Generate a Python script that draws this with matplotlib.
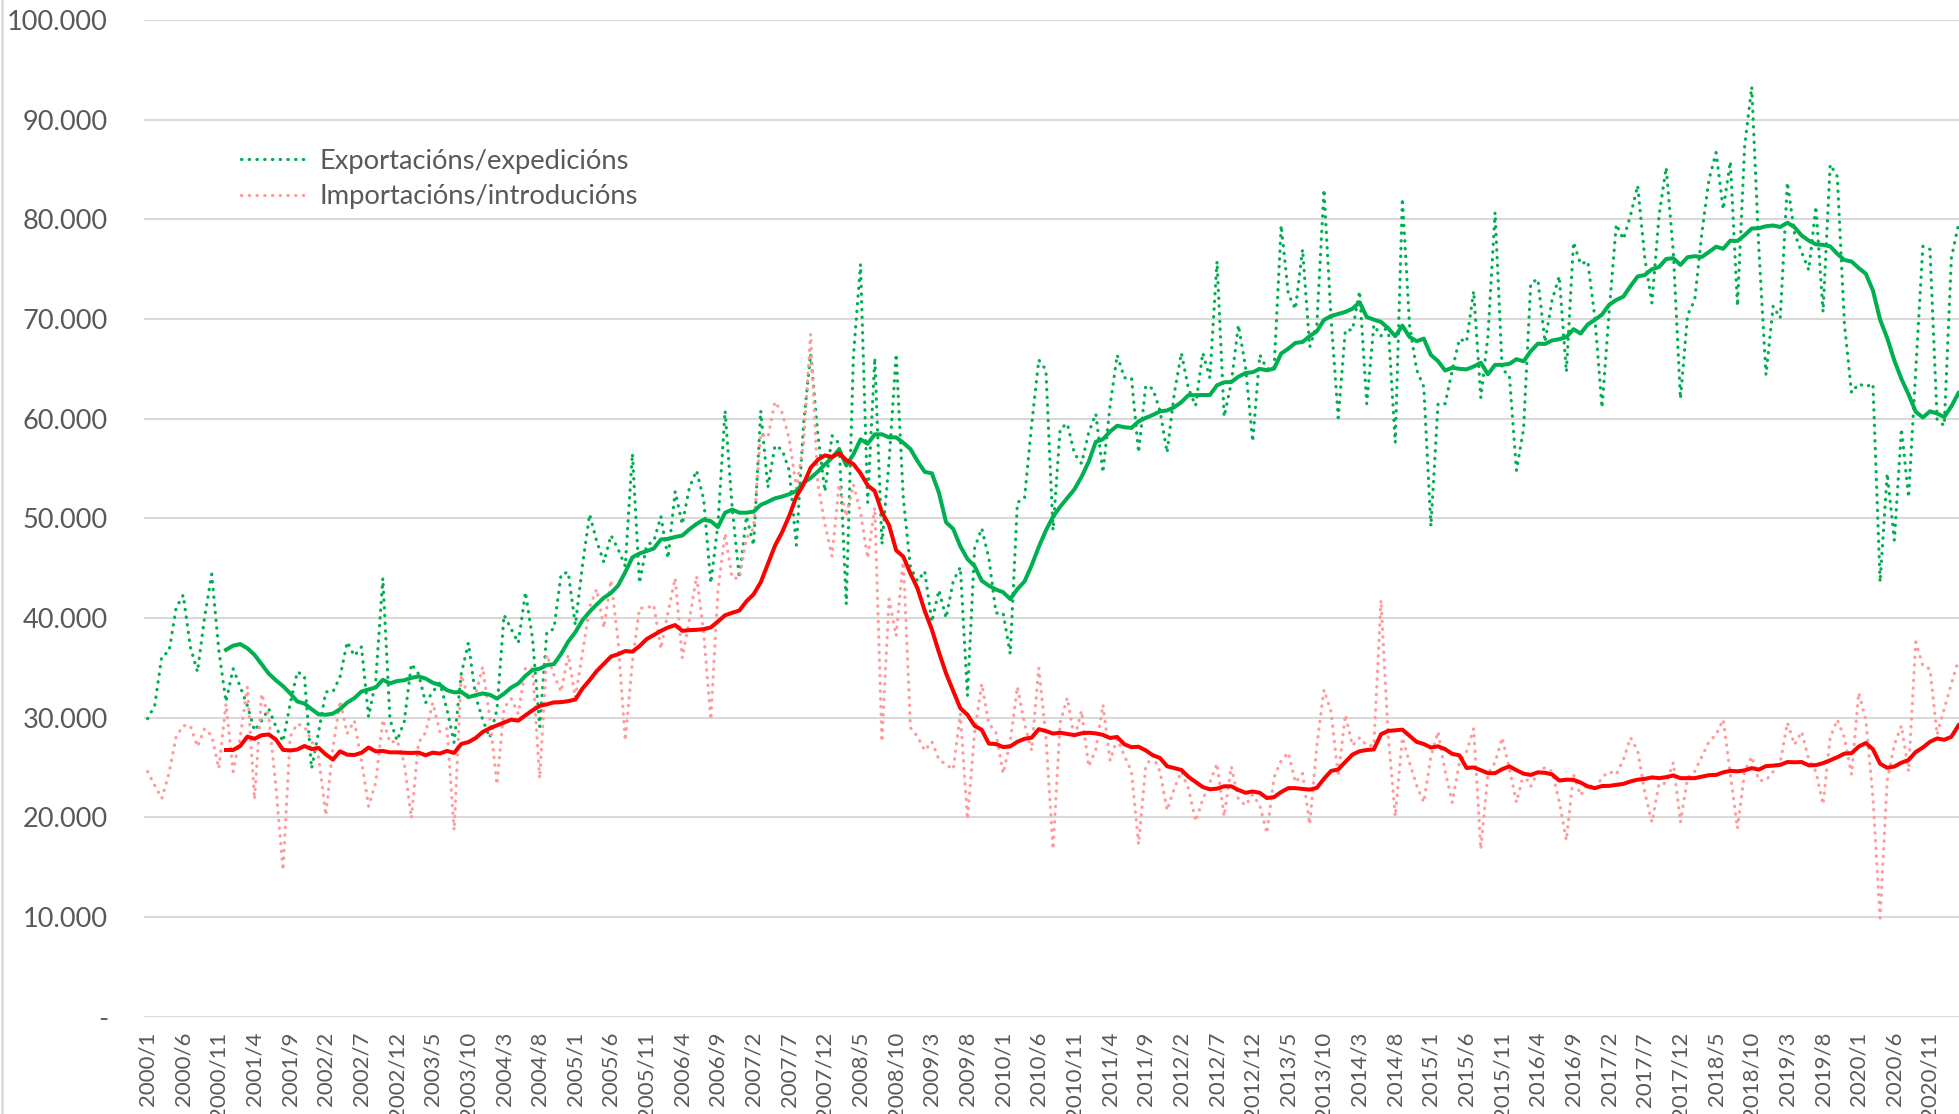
import matplotlib
matplotlib.use('Agg')
import matplotlib.pyplot as plt
import matplotlib.ticker as ticker
from matplotlib.lines import Line2D
import pandas as pd

# Monthly values from 2000/1
exportacions = [
    29.9, 31.2, 36.2, 36.6, 41.0, 42.3, 37.1, 34.6, 40.1, 44.4, 36.7, 31.6,
    34.9, 33.1, 31.2, 28.7, 29.7, 30.9, 29.1, 27.6, 31.4, 34.6, 34.2, 24.9,
    28.6, 32.6, 32.6, 34.1, 37.6, 36.2, 37.1, 30.1, 33.7, 44.0, 29.8, 27.7,
    29.6, 35.4, 34.4, 31.5, 32.6, 33.5, 30.8, 27.5, 34.4, 37.5, 32.2, 29.8,
    28.0, 30.8, 40.3, 38.9, 37.5, 42.6, 37.9, 29.1, 38.6, 38.9, 44.4, 44.6,
    39.3, 45.3, 50.4, 47.7, 45.6, 48.3, 46.9, 45.2, 56.5, 43.5, 47.3, 47.7,
    50.2, 46.0, 52.7, 49.4, 53.1, 54.8, 51.9, 43.5, 49.4, 60.8, 51.0, 44.0,
    50.2, 47.3, 60.8, 53.1, 57.3, 56.9, 54.8, 47.3, 59.4, 66.5, 58.5, 52.7,
    58.3, 57.5, 41.4, 66.3, 75.5, 51.6, 66.1, 47.4, 55.7, 66.5, 52.0, 45.1,
    43.7, 44.7, 39.6, 42.8, 40.0, 43.7, 45.1, 32.2, 47.0, 49.0, 46.0, 40.5,
    40.5, 36.4, 51.6, 52.0, 59.4, 65.9, 64.9, 48.8, 59.0, 59.5, 56.5, 55.5,
    58.6, 60.5, 54.6, 61.3, 66.4, 64.1, 64.1, 56.6, 63.3, 63.0, 60.8, 56.6,
    62.5, 66.6, 63.0, 61.3, 66.6, 64.1, 75.8, 60.2, 63.6, 69.4, 65.2, 57.7,
    66.4, 65.0, 65.0, 79.4, 72.5, 71.0, 77.0, 67.2, 69.4, 83.0, 70.0, 60.1,
    68.9, 68.9, 72.8, 61.5, 69.4, 68.3, 69.4, 57.6, 82.1, 69.4, 64.9, 63.2,
    49.2, 61.5, 61.5, 64.9, 68.0, 67.7, 72.8, 62.1, 68.3, 80.7, 64.9, 64.4,
    54.8, 59.0, 73.6, 74.0, 67.7, 71.9, 74.3, 64.7, 77.7, 75.5, 75.8, 70.1,
    61.1, 70.7, 79.5, 78.0, 80.4, 83.4, 76.1, 71.6, 80.4, 85.2, 76.7, 62.0,
    70.4, 71.9, 78.6, 84.0, 86.7, 81.0, 85.8, 71.3, 87.3, 93.3, 77.0, 64.4,
    71.3, 70.1, 83.7, 78.6, 76.7, 74.9, 81.3, 70.7, 85.5, 84.3, 69.5, 62.6,
    63.5, 63.2, 63.5, 43.6, 54.5, 47.8, 59.0, 52.1, 64.8, 77.3, 77.0, 59.9,
    59.3, 76.1, 79.5,
]

importacions = [
    24.6, 23.2, 21.9, 24.4, 28.1, 29.2, 29.2, 27.1, 28.9, 28.2, 24.9, 31.4,
    24.6, 28.1, 33.1, 21.8, 32.4, 30.1, 23.1, 14.7, 28.1, 29.4, 29.1, 27.7,
    26.0, 20.2, 27.0, 31.7, 28.4, 29.7, 25.7, 21.1, 23.5, 29.8, 27.5, 27.7,
    25.5, 19.9, 27.5, 28.5, 31.5, 28.6, 28.9, 18.7, 34.3, 32.0, 32.3, 35.1,
    30.0, 23.3, 31.0, 31.9, 30.4, 35.0, 34.9, 23.9, 36.3, 34.3, 32.6, 36.3,
    32.0, 36.5, 41.1, 42.9, 39.0, 43.8, 37.7, 27.7, 35.6, 41.0, 41.0, 41.3,
    36.9, 40.6, 44.0, 36.0, 39.8, 44.2, 38.5, 29.8, 42.7, 48.5, 44.0, 44.0,
    48.0, 49.0, 58.5, 58.1, 61.7, 60.6, 58.0, 53.0, 57.5, 68.5, 53.5, 49.4,
    46.2, 53.4, 50.2, 53.4, 50.6, 46.0, 51.1, 27.6, 41.9, 38.2, 46.0, 29.0,
    28.1, 26.7, 27.6, 25.8, 25.3, 24.8, 30.4, 19.8, 28.5, 33.4, 29.4, 28.5,
    24.4, 27.6, 33.1, 29.4, 26.7, 35.0, 28.1, 16.8, 29.5, 32.0, 27.9, 30.7,
    25.1, 26.8, 31.3, 25.7, 27.9, 26.2, 24.6, 17.3, 25.1, 26.2, 24.6, 20.7,
    22.9, 24.6, 22.9, 19.6, 21.8, 23.5, 25.4, 20.1, 25.1, 21.8, 21.2, 22.3,
    21.2, 18.4, 24.0, 25.7, 26.5, 23.5, 24.4, 19.3, 27.2, 32.8, 30.6, 24.1,
    30.3, 27.2, 28.0, 27.2, 27.2, 41.8, 28.3, 20.1, 28.0, 25.5, 23.2, 21.5,
    26.1, 28.6, 24.6, 21.5, 25.5, 26.6, 28.9, 16.8, 24.4, 25.5, 28.0, 24.9,
    21.5, 24.4, 23.1, 24.6, 25.0, 24.6, 21.6, 17.7, 24.3, 22.2, 23.4, 22.8,
    24.0, 24.6, 24.3, 25.8, 28.0, 26.7, 22.5, 19.5, 23.4, 23.4, 25.5, 19.5,
    24.0, 24.6, 26.1, 27.6, 28.3, 29.8, 24.3, 18.9, 24.6, 26.1, 23.7, 23.7,
    24.6, 25.5, 29.5, 27.3, 28.6, 25.8, 24.6, 21.3, 28.0, 29.8, 28.0, 24.3,
    32.5, 29.8, 22.0, 9.9, 23.7, 27.3, 29.2, 24.6, 37.6, 35.2, 34.9, 28.3,
    30.9, 33.4, 35.8,
]

series_names = ['Exportacións/expedicións', 'Importacións/introducións']
start_year = 2000
label_step = 5

# values in the chart are in units, the lists above in thousands
exp = pd.Series(exportacions) * 1000
imp = pd.Series(importacions) * 1000
n = len(exp)
months = ['{0}/{1}'.format(start_year + k // 12, k % 12 + 1) for k in range(n)]

# 12 month moving average (trend lines)
exp_ma = exp.rolling(12).mean()
imp_ma = imp.rolling(12).mean()

plt.rcParams['font.family'] = ['Lato', 'DejaVu Sans']
text_color = '#595959'
green = '#00b050'
pink = '#ff9b9b'
red = '#ff0000'

dpi = 100
fig = plt.figure(figsize=(19.59, 11.14), dpi=dpi)
ax = fig.add_axes([144 / 1959, 97.3 / 1114, 1815 / 1959, 996.7 / 1114])

x = range(n)
dots = (0, (0.12, 2.3))
l1, = ax.plot(x, exp, color=green, lw=2.3, linestyle=dots, dash_capstyle='round')
l2, = ax.plot(x, imp, color=pink, lw=2.3, linestyle=dots, dash_capstyle='round')
ax.plot(x, exp_ma, color=green, lw=2.9, solid_joinstyle='round')
ax.plot(x, imp_ma, color=red, lw=2.9, solid_joinstyle='round')

ax.set_xlim(-0.5, 254.07)
ax.set_ylim(0, 100000)
ax.yaxis.set_major_locator(ticker.MultipleLocator(10000))
ax.yaxis.set_major_formatter(ticker.FuncFormatter(
    lambda v, p: '-' if v == 0 else '{:,.0f}'.format(v).replace(',', '.')))
ax.yaxis.grid(True, color='#d9d9d9', lw=1.5)
ax.set_axisbelow(True)

ticks = list(range(0, n, label_step))
ax.set_xticks(ticks)
ax.set_xticklabels([months[k] for k in ticks], rotation=90)
ax.tick_params(axis='x', length=0, pad=11, labelsize=16, labelcolor=text_color)
ax.tick_params(axis='y', length=0, pad=26, labelsize=19.5, labelcolor=text_color)
for s in ax.spines.values():
    s.set_visible(False)

leg = fig.legend([l1, l2], series_names, loc='upper left',
                 bbox_to_anchor=(241 / 1959, 1 - 149 / 1114), frameon=False,
                 fontsize=19.7, handlelength=2.4, handletextpad=0.47,
                 labelspacing=0.38, borderpad=0, borderaxespad=0)
for t in leg.get_texts():
    t.set_color(text_color)

# chart area border on the left
fig.add_artist(Line2D([0.0008, 0.0008], [0, 1], transform=fig.transFigure,
                      color='#d9d9d9', lw=1.8))

fig.savefig('out.png', dpi=dpi)
